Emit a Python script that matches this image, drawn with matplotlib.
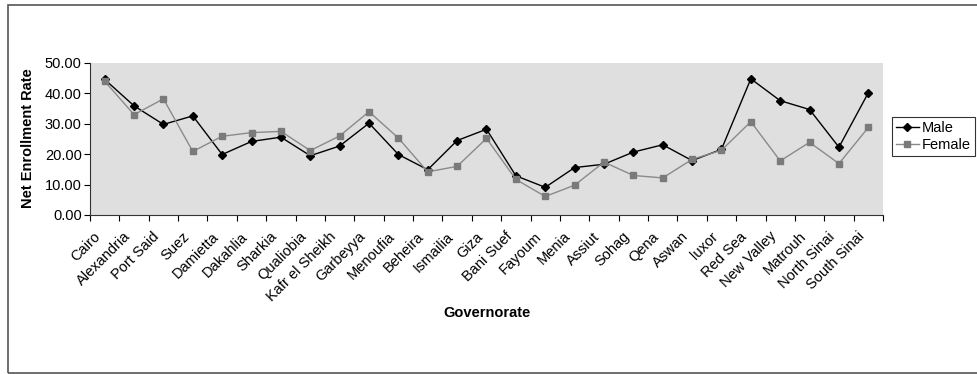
import numpy as np
import matplotlib
matplotlib.use("Agg")
import matplotlib.pyplot as plt
from matplotlib.patches import Rectangle
from matplotlib.transforms import ScaledTranslation

plt.rcParams['font.family'] = ['Liberation Sans', 'DejaVu Sans']

# Net enrollment by governorate
governorates = ["Cairo", "Alexandria", "Port Said", "Suez", "Damietta", "Dakahlia",
                "Sharkia", "Qualiobia", "Kafr el Sheikh", "Garbeyya", "Menoufia",
                "Beheira", "Ismailia", "Giza", "Bani Suef", "Fayoum", "Menia",
                "Assiut", "Sohag", "Qena", "Aswan", "luxor", "Red Sea",
                "New Valley", "Matrouh", "North Sinai", "South Sinai"]
male = [44.6, 35.9, 29.8, 32.6, 19.9, 24.2, 25.6, 19.5, 22.7, 30.2, 19.9, 14.9,
        24.5, 28.2, 12.9, 9.1, 15.6, 16.7, 20.7, 23.1, 17.9, 21.6, 44.8, 37.6,
        34.7, 22.3, 40.2]
female = [44.0, 33.0, 38.2, 20.9, 25.9, 27.1, 27.5, 21.2, 26.0, 34.0, 25.3, 14.2,
          16.0, 25.2, 11.7, 6.1, 9.8, 17.4, 13.0, 12.2, 18.3, 21.3, 30.7, 17.8,
          23.9, 16.9, 28.8]
y_ticks = [0, 10, 20, 30, 40, 50]

W, H = 978, 374
fig = plt.figure(figsize=(W / 100, H / 100), dpi=100)

# outer chart border
fig.patches.append(Rectangle((8 / W, 1 - 373 / H), 1.0, (373 - 5) / H,
                             transform=fig.transFigure, fill=False,
                             edgecolor='#555555', lw=1.2))

ax = fig.add_axes([90 / W, 1 - 215 / H, (883 - 90) / W, (215 - 63) / H])
ax.set_facecolor('#dfdfdf')

x = np.arange(len(governorates))
ax.plot(x, male, color='black', lw=1, marker='D', ms=4, label='Male')
ax.plot(x, female, color='#8a8a8a', lw=1, marker='s', ms=4,
        mfc='#7a7a7a', mec='#7a7a7a', label='Female')

ax.set_xlim(-0.5, len(governorates) - 0.5)
ax.set_ylim(0, 50)
ax.set_yticks(y_ticks)
ax.set_yticklabels([f"{v:.2f}" for v in y_ticks], fontsize=10.5)

# ticks sit between categories, labels at the centres
ax.set_xticks(np.arange(-0.5, len(governorates)), labels=[])
ax.set_xticks(x, minor=True)
ax.set_xticklabels(governorates, minor=True, rotation=45, ha='right',
                   rotation_mode='anchor', fontsize=10.5)
ax.tick_params(axis='x', which='minor', length=0, pad=6)
ax.tick_params(axis='x', which='major', length=4, direction='out')
ax.tick_params(axis='y', length=4, direction='out', pad=2)

# nudge the slanted names down and to the left
shift = ScaledTranslation(-11 / 100, -6 / 100, fig.dpi_scale_trans)
for lab in ax.get_xticklabels(minor=True):
    lab.set_transform(lab.get_transform() + shift)

for s in ['top', 'right']:
    ax.spines[s].set_visible(False)
for s in ['left', 'bottom']:
    ax.spines[s].set_color('#333333')

fig.text(28 / W, 1 - 138 / H, "Net Enrollment Rate", rotation=90,
         ha='center', va='center', fontsize=10.5, fontweight='bold')
fig.text(487 / W, 1 - 313 / H, "Governorate", ha='center', va='center',
         fontsize=10.5, fontweight='bold')

leg = fig.legend(loc='upper left', bbox_to_anchor=(892 / W, 1 - 117 / H),
                 frameon=True, fancybox=False, fontsize=10.5, handlelength=1.6,
                 handletextpad=0.2, borderpad=0.25, labelspacing=0.25,
                 borderaxespad=0)
leg.get_frame().set_edgecolor('black')
leg.get_frame().set_linewidth(0.8)

fig.savefig("out.png", dpi=100)
